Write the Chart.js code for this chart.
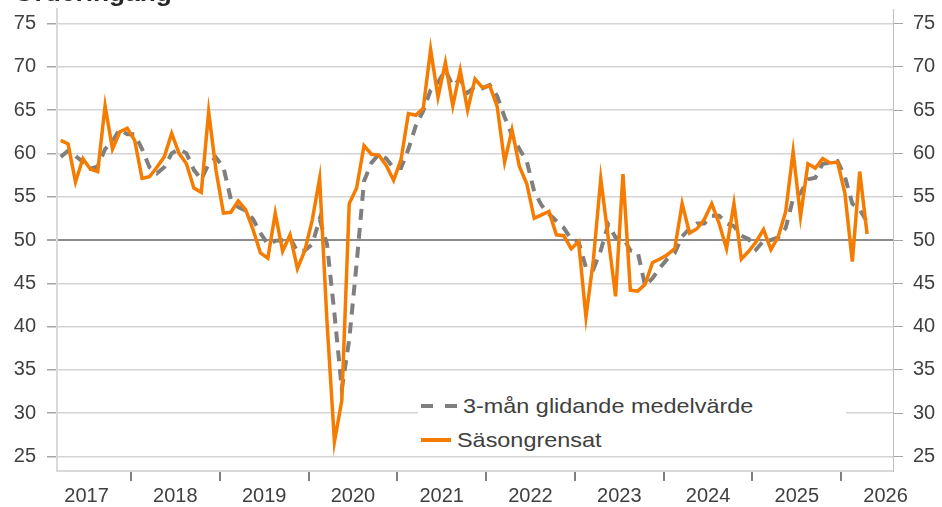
<!DOCTYPE html>
<html lang="sv">
<head>
<meta charset="utf-8">
<title>Orderingång</title>
<script src="https://cdn.jsdelivr.net/npm/chart.js@4.4.1/dist/chart.umd.min.js"></script>
<style>
  body { margin: 0; background: #fff; }
  #wrap { position: relative; width: 942px; height: 507px; overflow: hidden; font-family: "Liberation Sans", Arial, sans-serif; }
  #title { position: absolute; left: 14px; top: -18px; font-size: 23.5px; line-height: 23.5px; font-weight: bold; color: #262626; white-space: nowrap; transform: scaleX(1.12); transform-origin: 0 0; }
  #legend-box { position: absolute; left: 418px; top: 388px; width: 428px; height: 66px; background: #fff; }
  .legend-row { position: absolute; left: 420px; height: 24px; display: flex; align-items: center; font-size: 21px; color: #404040; white-space: nowrap; }
  .legend-row svg { display: block; margin-right: 6px; }
  .legend-row span { display: inline-block; transform: scaleX(1.115); transform-origin: 0 50%; }
</style>
</head>
<body>
<div id="wrap">
  <canvas id="order-chart" width="942" height="507"></canvas>
  <div id="title">Orderingång</div>
  <div id="legend-box"></div>
  <div class="legend-row" style="top:394px">
    <svg width="37" height="24"><line x1="1" y1="12" x2="37" y2="12" stroke="#7f7f7f" stroke-width="4" stroke-dasharray="12 12"/></svg>
    <span>3-mån glidande medelvärde</span>
  </div>
  <div class="legend-row" style="top:428px">
    <svg width="31" height="24"><line x1="1" y1="12" x2="31" y2="12" stroke="#f57c00" stroke-width="4"/></svg>
    <span>Säsongrensat</span>
  </div>
</div>
<script>
// Months on the axis: Mar 2017 .. Jul 2026 (data ends Apr 2026)
const months = [];
for (let y = 2017; y <= 2026; y++) {
    for (let m = 1; m <= 12; m++) {
        const key = y + "-" + String(m).padStart(2, "0");
        if (key >= "2017-03" && key <= "2026-07") months.push(key);
    }
}

// Säsongrensat (monthly)
const sasongrensat = [
    61.5, 61.1, 56.7, 59.4, 58.2, 57.9, 65.5, 60.5, 62.5, 62.9,
    61.5, 57.1, 57.3, 58.4, 59.6, 62.3, 60.0, 58.8, 56.0, 55.5, 64.8, 58.0,
    53.1, 53.2, 54.5, 53.5, 51.2, 48.5, 47.9, 53.1, 48.7, 50.6, 46.7, 48.8,
    52.3, 57.1, 40.5, 26.7, 31.5, 54.2, 56.0, 60.9, 59.9, 59.8, 58.6, 56.9,
    59.3, 64.6, 64.4, 65.2, 72.0, 66.5, 70.5, 65.5, 69.6, 65.0, 68.6, 67.6,
    67.8, 65.4, 59.0, 62.7, 58.5, 56.5, 52.5, 52.9, 53.3, 50.6, 50.5, 49.0,
    49.8, 41.1, 47.7, 57.1, 50.3, 43.5, 57.6, 44.2, 44.1, 44.9, 47.4, 47.8,
    48.3, 49.0, 54.2, 50.8, 51.3, 52.4, 54.2, 51.9, 49.0, 54.2, 47.8, 48.7,
    49.8, 51.2, 48.9, 50.4, 53.3, 60.2, 52.7, 58.8, 58.3, 59.4, 58.9, 59.0,
    55.4, 47.5, 57.9, 50.7
];

// 3-mån glidande medelvärde
const glidande = [
    59.6, 60.3, 59.7, 59.0, 58.2, 58.5, 60.5, 61.4, 62.8, 62.2,
    62.2, 60.5, 58.4, 57.7, 58.4, 60.0, 60.5, 60.0, 58.1, 57.0, 58.8, 59.5,
    58.4, 54.7, 53.8, 53.4, 52.4, 50.8, 49.5, 49.9, 50.0, 50.2, 48.7, 48.8,
    49.5, 52.4, 49.5, 41.5, 32.8, 38.5, 47.3, 56.8, 58.9, 59.9, 59.4, 58.3,
    58.3, 60.5, 63.2, 64.9, 67.3, 68.2, 69.6, 67.8, 68.6, 67.0, 67.7, 67.5,
    67.9, 66.6, 64.2, 62.1, 60.5, 59.1, 55.6, 54.0, 53.0, 52.2, 51.4, 50.1,
    49.8, 46.8, 46.6, 48.8, 51.8, 50.3, 50.3, 48.8, 48.6, 44.7, 45.6, 46.8,
    47.8, 48.5, 50.4, 51.3, 51.9, 51.9, 52.8, 52.8, 51.9, 51.6, 50.5, 50.1,
    48.9, 49.9, 50.0, 50.3, 51.4, 54.8, 55.4, 57.0, 57.2, 58.8, 58.9, 59.1,
    57.3, 54.2, 53.5, 52.1
];

const yTicks = [25, 30, 35, 40, 45, 50, 55, 60, 65, 70, 75];

const labelFont = { family: "'Liberation Sans', Arial, sans-serif", size: 20 };
const labelColor = "#404040";

function fixedTicks(scale) {
    scale.ticks = yTicks.map(v => ({ value: v }));
}

// fixed axis sizes so the plot area sits where the original has it
function fitY(width) {
    return s => {
        s.width = width;
        s.paddingTop = 0;
        s.paddingBottom = 0;
    };
}

const ctx = document.getElementById("order-chart").getContext("2d");
new Chart(ctx, {
    type: "line",
    data: {
        labels: months,
        datasets: [
            {
                label: "Säsongrensat",
                data: sasongrensat,
                borderColor: "#f57c00",
                borderWidth: 3.5,
                pointRadius: 0,
                tension: 0,
            },
            {
                label: "3-mån glidande medelvärde",
                data: glidande,
                borderColor: "#7f7f7f",
                borderWidth: 4,
                borderDash: [11, 8],
                pointRadius: 0,
                tension: 0,
            }
        ]
    },
    options: {
        responsive: false,
        animation: false,
        layout: { padding: { top: 9, left: 0, right: 0, bottom: 0 } },
        plugins: {
            legend: { display: false },
            tooltip: { enabled: false },
        },
        scales: {
            x: {
                offset: true,
                afterFit: s => {
                    s.height = 36;
                    s.paddingLeft = 0;
                    s.paddingRight = 0;
                },
                grid: {
                    offset: true,
                    drawOnChartArea: false,
                    tickLength: 10,
                    lineWidth: 2,
                    tickColor: c => (c.index !== undefined && months[c.index] && months[c.index].endsWith("-01")) ? "#7f7f7f" : "rgba(0,0,0,0)",
                },
                border: { color: "#d9d9d9", width: 2 },
                ticks: {
                    autoSkip: false,
                    maxRotation: 0,
                    minRotation: 0,
                    padding: 3,
                    labelOffset: -3.7,
                    color: labelColor,
                    font: labelFont,
                    callback: (val, i) => months[i].endsWith("-07") ? months[i].slice(0, 4) : "",
                },
            },
            y: {
                position: "left",
                min: 23.33,
                max: 76.67,
                afterBuildTicks: fixedTicks,
                afterFit: fitY(57),
                grid: {
                    color: c => (c.tick && c.tick.value === 50) ? "#8c8c8c" : "#d4d4d4",
                    lineWidth: c => (c.tick && c.tick.value === 50) ? 2 : 1.5,
                    tickLength: 10,
                    tickColor: "#a6a6a6",
                },
                border: { color: "#d9d9d9", width: 2 },
                ticks: { padding: 11, color: labelColor, font: labelFont },
            },
            y2: {
                position: "right",
                min: 23.33,
                max: 76.67,
                afterBuildTicks: fixedTicks,
                afterFit: fitY(49),
                grid: {
                    drawOnChartArea: false,
                    tickLength: 10,
                    tickColor: "#a6a6a6",
                },
                border: { color: "#bfbfbf", width: 1 },
                ticks: { padding: 10, color: labelColor, font: labelFont },
            },
        },
    },
});
</script>
</body>
</html>
